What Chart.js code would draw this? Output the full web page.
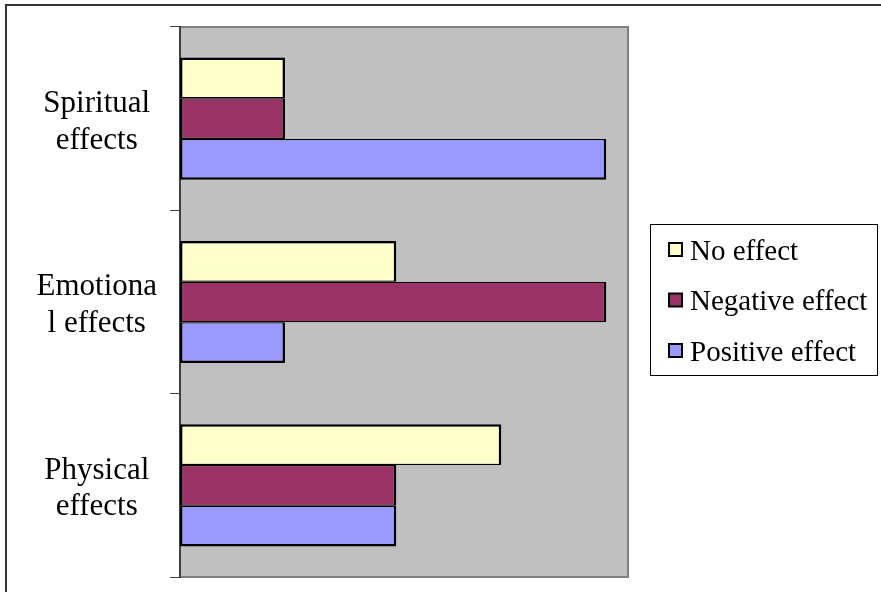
<!DOCTYPE html>
<html>
<head>
<meta charset="utf-8">
<script src="https://cdn.jsdelivr.net/npm/chart.js@4.4.0/dist/chart.umd.min.js"></script>
<style>
  html, body { margin: 0; padding: 0; background: #ffffff; }
  canvas { display: block; }
</style>
</head>
<body>
<canvas id="chart" width="881" height="592"></canvas>
<script>
// Categories (two-line labels) and series values
const categories = [['Spiritual', 'effects'], ['Emotiona', 'l effects'], ['Physical', 'effects']];
const seriesNames = ['No effect', 'Negative effect', 'Positive effect'];
const noEffect = [10, 20.6, 30.6];
const negativeEffect = [10, 40.6, 20.6];
const positiveEffect = [40.6, 10, 20.6];
const valueAxisMax = 42.67;

const seriesColors = ['#FFFFCC', '#993366', '#9999FF'];
const serif = "'Liberation Serif', 'Times New Roman', serif";

// Shared edges between neighbouring bars are drawn once, outer edges thicker
const borders = [
  { top: 2.5, bottom: 1.25, left: 2.5, right: 2.5 },
  { top: 1.25, bottom: 1.25, left: 2.5, right: 2.5 },
  { top: 1.25, bottom: 2.5, left: 2.5, right: 2.5 }
];

const seriesValues = [noEffect, negativeEffect, positiveEffect];

const datasets = seriesNames.map((name, i) => ({
  label: name,
  data: seriesValues[i],
  backgroundColor: seriesColors[i],
  borderColor: '#000000',
  borderWidth: borders[i],
  borderSkipped: false,
  categoryPercentage: 2 / 3,
  barPercentage: 1.0
}));

// Page frame, grey plot area and its border
const backdrop = {
  id: 'backdrop',
  beforeDraw(chart) {
    const { ctx, chartArea: a, width, height } = chart;
    ctx.save();
    ctx.fillStyle = '#ffffff';
    ctx.fillRect(0, 0, width, height);

    ctx.strokeStyle = '#333333';
    ctx.lineWidth = 2;
    ctx.beginPath();
    ctx.moveTo(6, height);
    ctx.lineTo(6, 5);
    ctx.lineTo(width, 5);
    ctx.stroke();

    ctx.fillStyle = '#C0C0C0';
    ctx.fillRect(a.left, a.top, a.right - a.left, a.bottom - a.top);
    ctx.strokeStyle = '#808080';
    ctx.lineWidth = 2;
    ctx.strokeRect(a.left, a.top, a.right - a.left, a.bottom - a.top);
    ctx.restore();
  }
};

// Boxed legend to the right of the plot
const boxedLegend = {
  id: 'boxedLegend',
  afterDraw(chart) {
    const { ctx } = chart;
    ctx.save();
    ctx.strokeStyle = '#000000';
    ctx.lineWidth = 1;
    ctx.strokeRect(650.5, 224.5, 227, 151);

    ctx.font = '29px ' + serif;
    ctx.textBaseline = 'alphabetic';
    ctx.textAlign = 'left';
    chart.data.datasets.forEach((ds, i) => {
      const cy = 249.5 + i * 50.5;
      ctx.fillStyle = ds.backgroundColor;
      ctx.fillRect(669, cy - 6.5, 13, 13);
      ctx.lineWidth = 2;
      ctx.strokeStyle = '#000000';
      ctx.strokeRect(669, cy - 6.5, 13, 13);
      ctx.fillStyle = '#000000';
      ctx.fillText(ds.label, 690, cy + 10);
    });
    ctx.restore();
  }
};

new Chart(document.getElementById('chart'), {
  type: 'bar',
  data: { labels: categories, datasets },
  options: {
    indexAxis: 'y',
    responsive: false,
    animation: false,
    devicePixelRatio: 1,
    layout: { padding: { left: 0, top: 27, right: 253, bottom: 15 } },
    plugins: {
      legend: { display: false },
      tooltip: { enabled: false }
    },
    scales: {
      x: {
        display: false,
        min: 0,
        max: valueAxisMax
      },
      y: {
        afterFit(scale) {
          scale.width = 180;
          scale.paddingTop = 0;
          scale.paddingBottom = 0;
        },
        grid: {
          display: true,
          offset: true,
          drawOnChartArea: false,
          drawTicks: true,
          tickLength: 10,
          color: '#404040',
          lineWidth: 1
        },
        border: { display: true, color: '#404040', width: 2 },
        ticks: {
          crossAlign: 'center',
          padding: 13,
          labelOffset: 3.5,
          color: '#000000',
          font: { family: serif, size: 31, lineHeight: 36.5 / 31 }
        }
      }
    }
  },
  plugins: [backdrop, boxedLegend]
});
</script>
</body>
</html>
